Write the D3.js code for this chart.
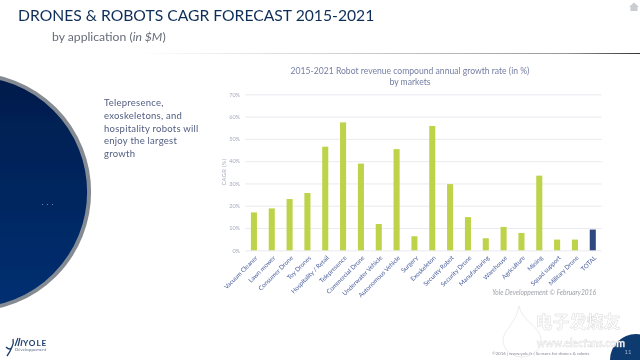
<!DOCTYPE html>
<html>
<head>
<meta charset="utf-8">
<script src="https://cdn.jsdelivr.net/npm/d3@7"></script>
<style>
  html, body { margin: 0; padding: 0; background: #fff; }
  svg { display: block; font-family: Lato, sans-serif; }
</style>
</head>
<body>
<script>
// Data
const categories = ['Vacuum Cleaner', 'Lawn mower', 'Consumer Drone', 'Toy Drones', 'Hospitality / Retail',
  'Telepresence', 'Commercial Drone', 'Underwater Vehicle', 'Autonomous Vehicle', 'Surgery', 'Exoskeleton',
  'Security Robot', 'Security Drone', 'Manufacturing', 'Warehouse', 'Agriculture', 'Mining',
  'Squad support', 'Military Drone', 'TOTAL']
const cagr = [17, 18.8, 23, 25.7, 46.5, 57.4, 38.9, 11.8, 45.4, 6.3, 55.8, 29.7, 14.9, 5.4, 10.5, 7.8, 33.5, 4.8, 4.8, 9.3]
const yTicks = [0, 10, 20, 30, 40, 50, 60, 70]
const bulletLines = ['Telepresence,', 'exoskeletons, and', 'hospitality robots will', 'enjoy the largest', 'growth']

const root = d3.select('body').append('svg').attr('width', 640).attr('height', 360)
const defs = root.append('defs')

// Flou leger, la reference est une image compressee
defs.append('filter').attr('id', 'soft')
  .attr('filterUnits', 'userSpaceOnUse')
  .attr('x', 0).attr('y', 0).attr('width', 640).attr('height', 360)
  .append('feGaussianBlur').attr('stdDeviation', 0.3)

const svg = root.append('g').attr('filter', 'url(#soft)')
svg.append('rect').attr('width', 640).attr('height', 360).attr('fill', '#fff')

// Degrades
const ruleGrad = defs.append('linearGradient').attr('id', 'rule')
ruleGrad.append('stop').attr('offset', '0').attr('stop-color', '#fff')
ruleGrad.append('stop').attr('offset', '0.6').attr('stop-color', '#bbb')
ruleGrad.append('stop').attr('offset', '0.85').attr('stop-color', '#999')
ruleGrad.append('stop').attr('offset', '1').attr('stop-color', '#333')

const discGrad = defs.append('linearGradient').attr('id', 'disc')
  .attr('x1', 0).attr('y1', 0).attr('x2', 0).attr('y2', 1)
discGrad.append('stop').attr('offset', '0').attr('stop-color', '#001c4c')
discGrad.append('stop').attr('offset', '1').attr('stop-color', '#013072')

// Titre
svg.append('text').attr('x', 18).attr('y', 21)
  .attr('font-size', 15.7).attr('fill', '#0f2f58')
  .text('DRONES & ROBOTS CAGR FORECAST 2015-2021')
const sub = svg.append('text').attr('x', 52).attr('y', 41).attr('font-size', 12.2).attr('fill', '#666c78')
sub.append('tspan').text('by application (')
sub.append('tspan').attr('font-style', 'italic').text('in $M')
sub.append('tspan').text(')')

svg.append('rect').attr('x', 140).attr('y', 53).attr('width', 500).attr('height', 1).attr('fill', 'url(#rule)')

// Disque a gauche
svg.append('circle').attr('cx', -28.4).attr('cy', 192).attr('r', 117.5)
  .attr('fill', 'url(#disc)').attr('stroke', '#858b93').attr('stroke-width', 4)
svg.append('text').attr('x', 48).attr('y', 205).attr('text-anchor', 'middle')
  .attr('font-size', 6).attr('letter-spacing', 1).attr('fill', '#dfe6f0').text('. . .')

// Texte
svg.append('g').selectAll('text').data(bulletLines).join('text')
  .attr('x', 104)
  .attr('y', (d, i) => 106 + i * 12.8)
  .attr('font-size', 9.5)
  .attr('letter-spacing', 0.25)
  .attr('fill', '#515d80')
  .text(d => d)

// Titre du graphique
svg.append('text').attr('x', 410).attr('y', 74).attr('text-anchor', 'middle')
  .attr('font-size', 8.6).attr('fill', '#757ea3').text('2015-2021 Robot revenue compound annual growth rate (in %)')
svg.append('text').attr('x', 410).attr('y', 85).attr('text-anchor', 'middle')
  .attr('font-size', 8.6).attr('fill', '#757ea3').text('by markets')

// Echelles
const x = d3.scaleBand().domain(categories).range([245, 601.7]).paddingInner(0.66).paddingOuter(0.33)
const y = d3.scaleLinear().domain([0, 70]).range([250.3, 94.3])

// Axe Y et grille
const yAxis = svg.append('g').attr('transform', 'translate(245,0)')
  .call(d3.axisLeft(y).tickValues(yTicks).tickFormat(d => d + '%').tickSize(0).tickPadding(5))
yAxis.select('.domain').remove()
yAxis.selectAll('text').attr('font-size', 5.5).attr('fill', '#a5abba').attr('font-family', 'Lato, sans-serif')
yAxis.selectAll('.tick line').attr('x2', 356.7).attr('stroke', '#e4e5ec').attr('stroke-width', 0.8)

svg.append('text').attr('transform', 'translate(226,172) rotate(-90)').attr('text-anchor', 'middle')
  .attr('font-size', 5.8).attr('letter-spacing', 0.3).attr('fill', '#a5abba').text('CAGR (%)')

// Barres
svg.append('g').selectAll('rect').data(categories).join('rect')
  .attr('x', d => x(d))
  .attr('width', x.bandwidth())
  .attr('y', (d, i) => y(cagr[i]))
  .attr('height', (d, i) => y(0) - y(cagr[i]))
  .attr('fill', d => d === 'TOTAL' ? '#2f4a80' : '#bed348')

// Axe X
const xAxis = svg.append('g').attr('transform', 'translate(0,250.3)')
  .call(d3.axisBottom(x).tickSize(0).tickPadding(0))
xAxis.select('.domain').remove()
xAxis.selectAll('text')
  .attr('font-size', 6.2)
  .attr('font-family', 'Lato, sans-serif')
  .attr('fill', '#4a5f9e')
  .attr('text-anchor', 'end')
  .attr('dy', 0)
  .attr('y', 0)
  .attr('transform', 'translate(4,8) rotate(-45)')

// Filigrane
svg.append('path').attr('d', 'M519 306 C522 322 541 326 541 340 A19 17 0 1 1 503 340 C503 330 516 324 519 306 Z')
  .attr('fill', '#fff').attr('stroke', '#ececec').attr('stroke-width', 1)
svg.append('text').attr('x', 578).attr('y', 328).attr('text-anchor', 'middle')
  .attr('font-family', '"Noto Sans CJK SC"').attr('font-size', 17).attr('font-weight', 700)
  .attr('fill', '#fff').attr('stroke', '#d8d8d8').attr('stroke-width', 0.5).text('电子发烧友')

// Pied de page
svg.append('circle').attr('cx', 636).attr('cy', 360).attr('r', 26).attr('fill', '#0f3a70')
svg.append('text').attr('x', 581).attr('y', 347).attr('text-anchor', 'middle')
  .attr('font-size', 10.5).attr('font-weight', 700).attr('fill', '#fff').attr('stroke', '#d0d0d0').attr('stroke-width', 0.35)
  .text('www.elecfans.com')
svg.append('text').attr('x', 492).attr('y', 355)
  .attr('font-size', 4.4).attr('fill', '#8b8f99').text('©2016 | www.yole.fr | Sensors for drones & robots')
svg.append('text').attr('x', 628).attr('y', 354).attr('text-anchor', 'middle')
  .attr('font-size', 6).attr('fill', '#9fb4d0').text('11')

// Credit
svg.append('text').attr('x', 596).attr('y', 295).attr('text-anchor', 'end')
  .attr('font-size', 6.6).attr('font-style', 'italic').attr('fill', '#a0a2aa')
  .text('Yole Developpement © February2016')

// Logo
svg.append('path').attr('d', 'M6 347 Q10 351 12 347 Q14 343 13 339 M12 347 Q10 352 7 356').attr('fill', 'none').attr('stroke', '#1f3f6e').attr('stroke-width', 1.3)
svg.append('path').attr('d', 'M15 346 L18 338 M18 346 L20 338 M21 346 L22 340').attr('fill', 'none').attr('stroke', '#1f3f6e').attr('stroke-width', 1.2)
svg.append('text').attr('x', 23).attr('y', 346).attr('font-size', 8.2).attr('font-weight', 700)
  .attr('letter-spacing', 0.9).attr('fill', '#1f3f6e').text('YOLE')
svg.append('text').attr('x', 15).attr('y', 351).attr('font-size', 4.2).attr('letter-spacing', 0.15).attr('fill', '#5a6a85').text('Développement')

// Icone maison
svg.append('path').attr('d', 'M629 7 L634 2.5 L639 7 L637.5 7 L637.5 11 L630.5 11 L630.5 7 Z').attr('fill', '#c9ccd0')
</script>
</body>
</html>
